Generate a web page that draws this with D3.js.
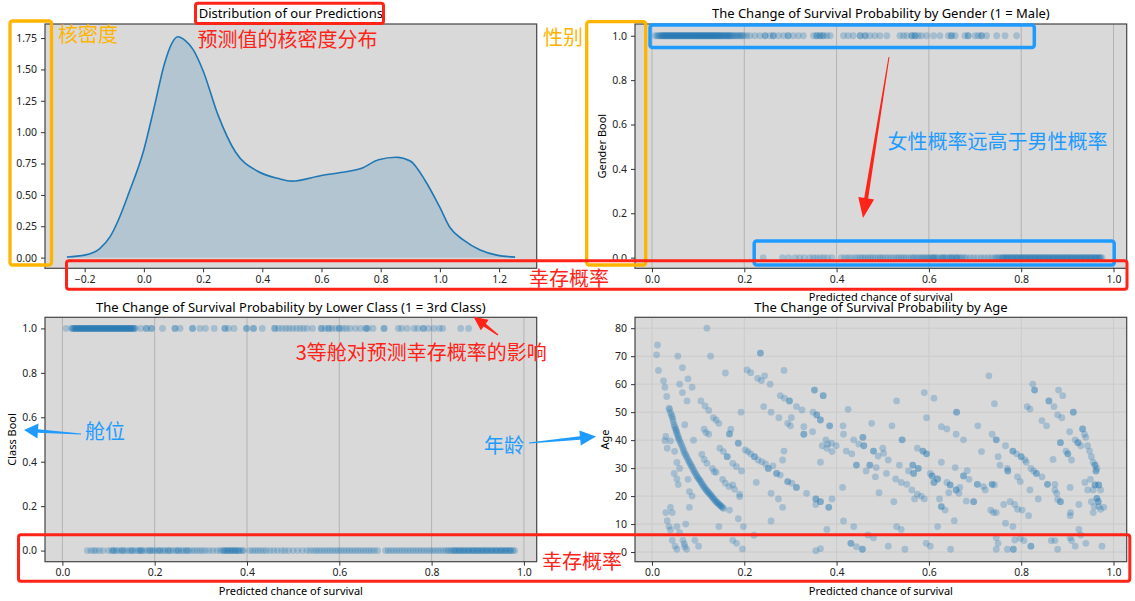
<!DOCTYPE html>
<html><head><meta charset="utf-8">
<script src="https://cdn.jsdelivr.net/npm/d3@7"></script>
<style>body{margin:0;background:#fff}svg{display:block}</style>
</head><body><svg id="c" width="1135" height="601"></svg>
<script>
// ---------- DATA ----------
const kdeX = [-0.26,-0.2,-0.15,-0.114,-0.086,-0.05,0.0,0.035,0.07,0.095,0.114,0.14,0.166,0.2,0.25,0.31,0.383,0.455,0.5,0.6,0.672,0.733,0.793,0.853,0.9,0.95,1.0,1.034,1.079,1.136,1.192,1.254];
const kdeY = [0.005,0.02,0.07,0.167,0.30,0.52,0.86,1.2,1.55,1.71,1.76,1.73,1.66,1.49,1.14,0.84,0.69,0.63,0.61,0.655,0.68,0.71,0.78,0.80,0.77,0.615,0.40,0.24,0.141,0.061,0.02,0.004];

const maleProb = [0.007,0.011,0.014,0.017,0.019,0.021,0.023,0.025,0.026,0.028,0.03,0.031,0.033,0.035,0.036,0.038,0.04,0.041,0.043,0.045,0.046,0.048,0.05,0.051,0.053,0.055,0.056,0.058,0.06,0.061,0.063,0.065,0.066,0.068,0.07,0.071,0.073,0.075,0.076,0.078,0.08,0.081,0.083,0.085,0.086,0.088,0.09,0.091,0.093,0.095,0.096,0.098,0.1,0.101,0.103,0.105,0.106,0.108,0.11,0.111,0.113,0.115,0.116,0.118,0.12,0.121,0.123,0.125,0.126,0.128,0.13,0.131,0.133,0.135,0.136,0.138,0.14,0.141,0.143,0.145,0.146,0.148,0.15,0.152,0.154,0.156,0.158,0.16,0.162,0.164,0.166,0.168,0.17,0.172,0.175,0.178,0.181,0.184,0.187,0.19,0.193,0.196,0.199,
 0.205,0.212,0.223,0.234,0.245,0.245,0.256,0.263,0.263,0.274,0.285,0.295,0.295,0.306,0.317,0.328,0.35,0.357,0.357,0.364,0.364,0.371,0.371,0.379,0.386,
 0.415,0.425,0.436,0.451,0.451,0.462,0.462,0.472,0.483,0.494,0.509,0.537,0.545,0.552,0.563,0.563,0.57,0.57,0.577,0.584,0.595,0.61,0.624,0.642,0.649,0.649,0.657,0.678,0.685,0.685,0.7,0.707,0.714,0.714,0.725,0.747,0.765,0.79];
const femaleProb = [0.241,0.283,0.296,0.31,0.32,0.33,0.342,0.35,0.357,0.365,0.372,0.38,0.39,0.41,0.418,0.425,0.432,0.44,0.446,0.452,0.457,0.462,0.468,0.473,0.478,0.484,0.49,0.495,0.5,0.506,0.512,0.518,0.524,0.53,0.535,0.54,0.545,0.55,0.556,0.562,0.566,0.57,0.575,0.58,0.584,0.588,0.592,0.596,0.6,0.604,0.608,0.612,0.616,0.62,0.625,0.63,0.634,0.638,0.642,0.646,0.65,0.655,0.66,0.664,0.668,0.672,0.677,0.682,0.69,0.697,0.705,0.713,0.72,0.728,0.735,0.742,0.746,0.75,0.754,0.758,0.762,0.765,0.768,0.772,0.775,0.778,0.782,0.785,0.788,0.792,0.795,0.798,0.802,0.805,0.808,0.812,0.815,0.818,0.822,0.825,0.828,0.832,0.835,0.838,0.842,0.845,0.848,0.852,0.855,0.858,0.862,0.865,0.868,0.872,0.875,0.878,0.882,0.885,0.888,0.892,0.895,0.898,0.902,0.905,0.908,0.912,0.915,0.918,0.922,0.925,0.928,0.932,0.935,0.938,0.942,0.945,0.948,0.952,0.955,0.958,0.962,0.965,0.968,0.972,0.975,
 0.61,0.63,0.65,0.66,0.76,0.77,0.78,0.79,0.8,0.81,0.82,0.83,0.84,0.85,0.86,0.87,0.88,0.89,0.9,0.91,0.92,0.93,0.94,0.95,0.96,0.97];

const thirdClassProb = [0.008,0.02,0.022,0.024,0.026,0.028,0.03,0.031,0.034,0.035,0.037,0.039,0.04,0.043,0.044,0.046,0.048,0.049,0.052,0.053,0.055,0.057,0.058,0.061,0.062,0.064,0.066,0.067,0.07,0.071,0.073,0.075,0.076,0.079,0.08,0.082,0.084,0.085,0.088,0.089,0.091,0.093,0.094,0.097,0.098,0.1,0.102,0.103,0.106,0.107,0.109,0.111,0.112,0.115,0.116,0.118,0.12,0.121,0.124,0.125,0.127,0.129,0.13,0.133,0.134,0.136,0.138,0.139,0.142,0.143,0.145,0.147,0.148,0.151,0.152,0.154,0.156,0.158,
 0.17,0.182,0.182,0.193,0.193,0.217,0.244,0.244,0.255,0.282,0.282,0.298,0.31,0.329,0.352,0.352,0.36,0.372,0.399,0.399,0.414,0.414,0.433,0.46,0.46,0.468,0.476,0.484,0.491,0.499,0.507,0.515,0.522,0.53,0.542,0.561,0.561,0.569,0.577,0.577,0.584,0.592,0.6,0.6,0.608,0.615,0.623,0.635,0.646,0.658,0.658,0.662,0.673,0.697,0.697,0.728,0.735,0.747,0.762,0.77,0.782,0.782,0.793,0.805,0.817,0.824,0.863,0.88];
const upperClassProb = [0.054,0.062,0.068,0.073,0.08,0.088,0.1,0.107,0.112,0.117,0.122,0.128,0.134,0.14,0.146,0.152,0.158,0.164,0.168,0.172,0.178,0.184,0.19,0.196,0.2,0.206,0.212,0.218,0.222,0.228,0.234,0.24,0.246,0.252,0.258,0.262,0.268,0.274,0.28,0.286,0.292,0.298,0.304,0.31,0.318,0.326,0.335,0.342,0.347,0.35,0.352,0.356,0.358,0.36,0.364,0.366,0.368,0.372,0.374,0.376,0.38,0.382,0.385,0.39,0.392,0.406,0.412,0.418,0.424,0.43,0.436,0.442,0.45,0.458,0.466,0.475,0.482,0.49,0.5,0.51,0.52,0.53,0.537,0.544,0.55,0.556,0.562,0.568,0.574,0.58,0.586,0.592,0.598,0.604,0.61,0.616,0.622,0.628,0.634,0.64,0.646,0.652,0.658,0.664,0.67,0.676,0.683,0.7,0.706,0.712,0.718,0.724,0.73,0.736,0.742,0.748,0.754,0.76,0.766,0.772,0.778,0.784,0.79,0.796,0.802,0.808,0.814,0.82,0.826,0.832,0.836,0.84,0.844,0.848,0.852,0.856,0.86,0.864,0.868,0.872,0.876,0.88,0.884,0.888,0.892,0.896,0.9,0.904,0.908,0.912,0.916,0.92,0.924,0.928,0.932,0.936,0.94,0.944,0.948,0.952,0.956,0.96,0.964,0.968,0.972,0.976,0.98,
 0.11,0.13,0.15,0.17,0.19,0.21,0.23,0.25,0.27,0.85,0.86,0.87,0.88,0.89,0.9,0.91,0.92,0.93,0.94,0.95,0.96,0.97];

// [predicted probability, age]
const agePoints = [
[0.012,74.0],[0.010,70.5],[0.014,64.9],[0.025,61.2],[0.028,58.9],[0.032,55.6],[0.056,70.0],[0.066,65.9],[0.06,60.0],[0.078,61.9],[0.087,58.9],[0.066,57.0],[0.076,54.0],[0.119,80.0],[0.127,70.0],[0.159,64.0],[0.071,45.5],[0.09,40.0],[0.03,41.3],[0.028,39.8],[0.04,39.7],[0.033,37.1],[0.049,36.0],[0.054,32.0],[0.06,29.9],[0.048,28.1],[0.054,26.1],[0.057,24.1],[0.078,26.0],[0.081,21.6],[0.087,20.0],[0.081,16.0],[0.04,16.0],[0.044,14.1],[0.03,14.1],[0.033,11.2],[0.037,9.1],[0.04,7.9],[0.054,9.1],[0.06,6.9],[0.073,10.0],[0.044,4.2],[0.05,2.1],[0.054,1.0],[0.067,4.2],[0.07,2.9],[0.071,1.9],[0.075,1.0],[0.093,4.2],[0.101,2.1],
[0.037,51.4],[0.040,49.8],[0.044,48.4],[0.046,46.6],[0.049,44.8],[0.052,43.6],[0.054,42.4],[0.057,41.0],[0.060,39.8],[0.064,38.3],[0.068,36.7],[0.071,35.3],[0.075,34.1],[0.079,32.7],[0.083,31.5],[0.087,30.3],[0.091,29.0],[0.095,27.8],[0.099,26.7],[0.103,25.8],[0.107,24.8],[0.111,23.7],[0.115,22.8],[0.119,21.9],[0.123,21.2],[0.127,20.4],[0.131,19.6],[0.135,18.8],[0.139,18.0],[0.143,17.4],[0.147,16.8],[0.151,16.2],[0.155,15.6],
[0.038,51.0],[0.042,49.0],[0.045,47.5],[0.048,45.5],[0.051,44.2],[0.053,43.0],[0.056,41.7],[0.058,40.4],[0.062,39.0],[0.066,37.5],[0.069,36.0],[0.073,34.7],[0.077,33.4],[0.081,32.1],[0.085,30.9],[0.089,29.6],[0.093,28.4],[0.097,27.2],[0.101,26.2],[0.105,25.3],[0.109,24.2],[0.113,23.2],[0.117,22.3],[0.121,21.5],[0.125,20.8],[0.129,20.0],[0.133,19.2],[0.137,18.4],[0.141,17.7],[0.145,17.1],[0.149,16.5],[0.153,15.9],
[0.106,54.0],[0.115,52.2],[0.123,50.6],[0.133,48.0],[0.139,47.2],[0.145,46.0],[0.113,43.9],[0.117,42.7],[0.123,42.1],[0.168,42.2],[0.168,42.2],[0.171,43.9],[0.193,50.0],[0.108,34.9],[0.113,33.1],[0.119,31.7],[0.131,29.9],[0.135,28.7],[0.139,28.5],[0.147,37.1],[0.155,35.9],[0.163,34.1],[0.163,34.1],[0.175,31.7],[0.183,30.5],[0.194,29.0],[0.153,26.0],[0.159,24.6],[0.167,23.4],[0.175,24.0],[0.179,22.4],[0.19,20.7],[0.19,19.8],[0.168,15.0],[0.187,11.9],[0.198,9.1],[0.145,9.1],[0.175,4.2],[0.183,3.1],[0.196,1.1],[0.187,38.9],[0.187,38.9],
[0.206,65.1],[0.214,64.1],[0.235,71.1],[0.235,71.1],[0.229,62.1],[0.237,61.3],[0.244,63.0],[0.256,60.0],[0.242,52.0],[0.258,50.0],[0.286,64.9],[0.278,55.9],[0.287,55.0],[0.298,54.0],[0.298,54.0],[0.275,48.0],[0.294,46.0],[0.302,48.0],[0.313,52.0],[0.325,50.8],[0.3,45.1],[0.202,36.5],[0.208,35.9],[0.214,35.1],[0.222,34.1],[0.222,34.1],[0.23,32.9],[0.238,32.3],[0.246,31.5],[0.252,29.9],[0.252,29.9],[0.262,30.8],[0.27,28.1],[0.27,28.1],[0.278,27.5],[0.286,36.1],[0.283,32.9],[0.294,25.2],[0.294,25.2],[0.303,24.6],[0.313,23.1],[0.313,23.1],[0.226,24.9],[0.258,21.0],[0.274,19.0],[0.283,16.0],[0.258,11.1],[0.221,6.0],
[0.329,42.1],[0.329,42.1],[0.329,44.8],[0.335,21.0],[0.349,50],[0.352,57.9],[0.352,57.9],[0.371,55.9],[0.371,55.9],[0.357,49.0],[0.357,49.0],[0.365,47.2],[0.365,47.2],[0.385,45.1],[0.385,45.1],[0.348,43.0],[0.377,40.1],[0.381,38.6],[0.389,38.9],[0.369,38.0],[0.379,37.1],[0.39,35.9],[0.399,38.0],[0.365,32.1],[0.355,19.0],[0.355,19.0],[0.365,18.0],[0.365,18.0],[0.355,17.0],[0.383,16.0],[0.383,16.0],[0.39,19.0],[0.379,8.1],[0.355,0.5],[0.365,1.2],
[0.425,51.0],[0.414,45.1],[0.415,42.1],[0.437,40.1],[0.448,38.6],[0.457,41.0],[0.457,41.0],[0.459,38.0],[0.459,38.0],[0.421,36.1],[0.433,35.1],[0.443,31.1],[0.443,31.1],[0.464,29.0],[0.472,31.1],[0.472,31.1],[0.48,36.1],[0.48,36.1],[0.476,46.0],[0.486,30.2],[0.484,26.9],[0.49,34.3],[0.5,37.1],[0.413,23.1],[0.415,11.1],[0.437,9.1],[0.431,3.1],[0.431,3.1],[0.443,1.9],[0.456,1.0],[0.456,1.0],[0.468,6.1],[0.48,5.1],[0.492,21.2],
[0.502,35.3],[0.512,32.9],[0.508,28.1],[0.52,45.1],[0.53,54.0],[0.536,31.1],[0.542,40.1],[0.542,40.1],[0.528,26.1],[0.54,24.9],[0.552,24.2],[0.524,18.0],[0.53,9.1],[0.54,8.1],[0.512,2.1],[0.548,1.0],[0.556,29.0],[0.565,31.1],[0.565,31.1],[0.567,28.1],[0.567,28.1],[0.575,37.1],[0.577,29.9],[0.577,29.9],[0.587,36.1],[0.587,36.1],[0.595,35.1],[0.595,35.1],[0.59,57.0],[0.611,55.0],[0.595,48.0],[0.563,22.2],[0.575,20.7],[0.569,19.0],[0.583,20.0],[0.59,19.0],[0.594,3.1],[0.603,2.1],
[0.603,28.1],[0.607,27.2],[0.607,27.2],[0.611,24.9],[0.611,24.9],[0.619,26.1],[0.619,26.1],[0.627,32.1],[0.623,19.0],[0.627,16.2],[0.627,16.2],[0.635,15.0],[0.619,9.1],[0.627,44.8],[0.639,44.0],[0.66,50.0],[0.66,50.0],[0.659,42.1],[0.639,24.9],[0.646,24.0],[0.646,24.0],[0.643,21.2],[0.659,22.2],[0.659,22.2],[0.665,21.0],[0.657,30.2],[0.675,40.1],[0.675,27.2],[0.675,27.2],[0.687,26.0],[0.683,29.1],[0.667,23.1],[0.681,18.2],[0.697,18.0],[0.697,18.0],[0.655,11.2],[0.647,1.0],
[0.706,45.1],[0.714,35.9],[0.705,24.2],[0.705,24.2],[0.718,23.4],[0.722,22.2],[0.73,63.0],[0.737,42.1],[0.742,53.0],[0.746,40.1],[0.746,40.1],[0.75,34.1],[0.754,31.1],[0.766,38.0],[0.77,29.9],[0.771,29.0],[0.771,29.0],[0.782,36.1],[0.782,36.1],[0.79,35.1],[0.737,24.2],[0.737,24.2],[0.742,24.0],[0.734,15.0],[0.74,14.1],[0.746,14.1],[0.762,17.0],[0.776,18.0],[0.786,17.0],[0.792,26.9],[0.798,25.2],[0.792,15.3],[0.766,10.3],[0.782,9.1],[0.746,5.1],[0.75,3.1],[0.746,1.0],[0.77,1.0],[0.783,1.0],[0.783,1.0],[0.786,4.3],[0.798,4.9],
[0.825,60.0],[0.829,57.9],[0.829,57.9],[0.813,52.0],[0.819,51.1],[0.845,47.0],[0.855,45.1],[0.86,54.0],[0.86,54.0],[0.871,52.0],[0.8,34.1],[0.8,34.1],[0.808,32.9],[0.811,32.1],[0.821,29.9],[0.827,29.0],[0.833,28.1],[0.833,28.1],[0.845,26.9],[0.857,24.2],[0.857,24.2],[0.837,19.0],[0.819,22.2],[0.816,13.0],[0.802,15.0],[0.821,2.1],[0.821,2.1],[0.806,4.1],[0.869,33.1],[0.873,24.2],[0.873,22.2],[0.877,21.0],[0.879,18.8],[0.885,18.0],[0.885,18.0],[0.865,4.1],[0.873,4.1],[0.879,1.0],[0.881,57.9],[0.89,55.9],[0.879,49.0],[0.888,48.0],[0.885,39.1],[0.885,39.1],[0.897,36.1],[0.901,35.1],[0.901,35.1],
[0.913,50.0],[0.913,50.0],[0.905,43.0],[0.917,40.1],[0.923,39.1],[0.923,39.1],[0.929,38.0],[0.933,44.0],[0.933,44.0],[0.937,42.1],[0.94,41.0],[0.944,38.0],[0.948,36.1],[0.952,34.1],[0.956,32.1],[0.96,31.1],[0.96,31.1],[0.964,29.9],[0.962,29.0],[0.962,29.0],[0.909,32.9],[0.906,23.1],[0.925,17.0],[0.907,14.1],[0.906,13.0],[0.938,24.9],[0.944,22.2],[0.95,26.0],[0.956,22.2],[0.96,24.0],[0.96,24.0],[0.968,24.0],[0.968,24.0],[0.964,19.2],[0.964,19.2],[0.967,18.0],[0.967,18.0],[0.968,16.2],[0.958,16.2],[0.972,22.2],[0.972,15.3],[0.979,16.0],[0.956,14.1],[0.952,18.0],[0.925,8.1],[0.929,6.1],[0.906,5.1],[0.909,4.1],[0.917,2.1],[0.94,3.1],[0.975,2.1]
];

const kdeTicksX = [-0.2,0,0.2,0.4,0.6,0.8,1.0,1.2];
const kdeTicksY = [0,0.25,0.5,0.75,1.0,1.25,1.5,1.75];
const probTicks = [0,0.2,0.4,0.6,0.8,1.0];
const boolTicks = [0,0.2,0.4,0.6,0.8,1.0];
const ageTicks = [0,10,20,30,40,50,60,70,80];

const titles = ["Distribution of our Predictions","The Change of Survival Probability by Gender (1 = Male)","The Change of Survival Probability by Lower Class (1 = 3rd Class)","The Change of Survival Probability by Age"];
const xLabel = "Predicted chance of survival";

// ---------- DRAW ----------
const svg = d3.select('#c');
svg.append('rect').attr('width',1135).attr('height',601).attr('fill','#fff');
const defs = svg.append('defs');
const FONT = "'Noto Sans','DejaVu Sans',sans-serif";
const CJK = "'Noto Sans CJK SC','Noto Sans',sans-serif";
const BG = '#d9d9d9', PT = '#1f77b4';
const RED = '#ff2318', ORANGE = '#ffb400', BLUE = '#1f9bff';

function panel(o){
  const g = svg.append('g');
  const x = d3.scaleLinear().domain(o.xd).range([o.l,o.r]);
  const y = d3.scaleLinear().domain(o.yd).range([o.b,o.t]);
  g.append('rect').attr('x',o.l).attr('y',o.t).attr('width',o.r-o.l).attr('height',o.b-o.t).attr('fill',BG);
  if(o.gridX) g.append('g').selectAll('line').data(o.xt).join('line')
     .attr('x1',d=>x(d)).attr('x2',d=>x(d)).attr('y1',o.t).attr('y2',o.b)
     .attr('stroke',o.gridColor).attr('stroke-width',1);
  if(o.gridY) g.append('g').selectAll('line').data(o.yt).join('line')
     .attr('y1',d=>y(d)).attr('y2',d=>y(d)).attr('x1',o.l).attr('x2',o.r)
     .attr('stroke',o.gridColor).attr('stroke-width',1);
  defs.append('clipPath').attr('id','cp'+o.id).append('rect')
     .attr('x',o.l).attr('y',o.t).attr('width',o.r-o.l).attr('height',o.b-o.t);
  const plot = g.append('g').attr('clip-path',`url(#cp${o.id})`);
  function finish(){
    g.append('rect').attr('x',o.l).attr('y',o.t).attr('width',o.r-o.l).attr('height',o.b-o.t)
      .attr('fill','none').attr('stroke','#444').attr('stroke-width',1.2);
    const ax = g.append('g').attr('transform',`translate(0,${o.b})`)
      .call(d3.axisBottom(x).tickValues(o.xt).tickFormat(d3.format(o.xf)).tickSize(4).tickPadding(3));
    const ay = g.append('g').attr('transform',`translate(${o.l},0)`)
      .call(d3.axisLeft(y).tickValues(o.yt).tickFormat(d3.format(o.yf)).tickSize(4).tickPadding(4));
    [ax,ay].forEach(a=>{
      a.select('.domain').remove();
      a.selectAll('line').attr('stroke','#333');
      a.selectAll('text').attr('font-family',FONT).attr('font-size',10.5).attr('fill','#222');
    });
    const cx = (o.l+o.r)/2;
    g.append('text').attr('x',cx).attr('y',o.titleY).attr('text-anchor','middle').attr('dominant-baseline','central')
      .attr('font-family',FONT).attr('font-size',13).attr('fill','#000').text(o.title);
    if(o.xlab) g.append('text').attr('x',cx).attr('y',o.b+28.5).attr('text-anchor','middle').attr('dominant-baseline','central')
      .attr('font-family',FONT).attr('font-size',11).attr('fill','#000').text(o.xlab);
    if(o.ylab) g.append('text').attr('transform',`translate(${o.ylabX},${(o.t+o.b)/2}) rotate(-90)`)
      .attr('text-anchor','middle').attr('dominant-baseline','central')
      .attr('font-family',FONT).attr('font-size',11).attr('fill','#000').text(o.ylab);
  }
  return {x,y,plot,finish};
}

const R = 3.4, OP = 0.28;

// Panel 1: KDE
const p1 = panel({id:1,l:45,r:536.7,t:24,b:268.3,xd:[-0.334,1.327],yd:[-0.085,1.862],
  xt:kdeTicksX,yt:kdeTicksY,xf:'.1f',yf:'.2f',title:titles[0],titleY:13.3});
const kde = kdeX.map((v,i)=>[v,kdeY[i]]);
p1.plot.append('path').datum(kde)
  .attr('d',d3.area().x(d=>p1.x(d[0])).y0(p1.y(0)).y1(d=>p1.y(d[1])).curve(d3.curveMonotoneX))
  .attr('fill',PT).attr('fill-opacity',0.2);
p1.plot.append('path').datum(kde)
  .attr('d',d3.line().x(d=>p1.x(d[0])).y(d=>p1.y(d[1])).curve(d3.curveMonotoneX))
  .attr('fill','none').attr('stroke',PT).attr('stroke-width',1.6);
p1.finish();

// Panel 2: Gender
const p2 = panel({id:2,l:635,r:1126.7,t:24,b:268.3,xd:[-0.0368,1.0286],yd:[-0.048,1.053],
  xt:probTicks,yt:boolTicks,xf:'.1f',yf:'.1f',gridX:true,gridColor:'#b3b3b3',
  title:titles[1],titleY:13.3,xlab:xLabel,ylab:'Gender Bool',ylabX:601});
const gData = maleProb.map(v=>[v,1]).concat(femaleProb.map(v=>[v,0]));
p2.plot.selectAll('circle').data(gData).join('circle')
  .attr('cx',d=>p2.x(d[0])).attr('cy',d=>p2.y(d[1])).attr('r',R).attr('fill',PT).attr('fill-opacity',OP);
p2.finish();

// Panel 3: Class
const p3 = panel({id:3,l:45,r:536.7,t:317.3,b:561.7,xd:[-0.0377,1.0277],yd:[-0.05,1.05],
  xt:probTicks,yt:boolTicks,xf:'.1f',yf:'.1f',gridX:true,gridColor:'#b3b3b3',
  title:titles[2],titleY:306.7,xlab:xLabel,ylab:'Class Bool',ylabX:11.4});
const cData = thirdClassProb.map(v=>[v,1]).concat(upperClassProb.map(v=>[v,0]));
p3.plot.selectAll('circle').data(cData).join('circle')
  .attr('cx',d=>p3.x(d[0])).attr('cy',d=>p3.y(d[1])).attr('r',R).attr('fill',PT).attr('fill-opacity',OP);
p3.finish();

// Panel 4: Age
const p4 = panel({id:4,l:635,r:1126.7,t:317.3,b:561.7,xd:[-0.0368,1.0286],yd:[-3.45,83.9],
  xt:probTicks,yt:ageTicks,xf:'.1f',yf:'d',gridX:true,gridY:true,gridColor:'#cbcbcb',
  title:titles[3],titleY:306.7,xlab:xLabel,ylab:'Age',ylabX:604});
p4.plot.selectAll('circle').data(agePoints).join('circle')
  .attr('cx',d=>p4.x(d[0])).attr('cy',d=>p4.y(d[1])).attr('r',R).attr('fill',PT).attr('fill-opacity',OP);
p4.finish();

// ---------- ANNOTATIONS ----------
const ann = svg.append('g');
function box(x,y,w,h,c,sw){ ann.append('rect').attr('x',x).attr('y',y).attr('width',w).attr('height',h)
  .attr('rx',2.5).attr('fill','none').attr('stroke',c).attr('stroke-width',sw); }
function label(x,y,t,c){ ann.append('text').attr('x',x).attr('y',y).attr('dominant-baseline','central')
  .attr('font-family',CJK).attr('font-size',20).attr('fill',c).text(t); }
function arrow(x1,y1,x2,y2,tw,sw,hw,hl,c){
  const dx=x2-x1, dy=y2-y1, L=Math.hypot(dx,dy), ux=dx/L, uy=dy/L, nx=-uy, ny=ux;
  const bx=x2-ux*hl, by=y2-uy*hl;
  const pts=[[x1+nx*tw/2,y1+ny*tw/2],[bx+nx*sw/2,by+ny*sw/2],[bx+nx*hw/2,by+ny*hw/2],[x2,y2],
    [bx-nx*hw/2,by-ny*hw/2],[bx-nx*sw/2,by-ny*sw/2],[x1-nx*tw/2,y1-ny*tw/2]];
  ann.append('path').attr('d','M'+pts.map(p=>p.join(',')).join('L')+'Z').attr('fill',c);
}
box(10,21,41.5,244,ORANGE,3.3);
box(586.7,21.7,59,243.3,ORANGE,3.3);
box(650,25,384.3,22.6,BLUE,3.5);
box(754.2,241,360,24,BLUE,3.5);
label(58,33,'核密度',ORANGE);
label(543,36,'性别',ORANGE);
label(197.5,38.3,'预测值的核密度分布',RED);
label(887.5,140,'女性概率远高于男性概率',BLUE);
label(529,277,'幸存概率',RED);
label(295.7,351.7,'3等舱对预测幸存概率的影响',RED);
label(85,430,'舱位',BLUE);
label(484,444,'年龄',BLUE);
label(542,560,'幸存概率',RED);
arrow(889,57,863,218,1,4,16,20,RED);
arrow(498,335,473.5,316.7,1.5,3.5,13,14,RED);
arrow(81,434,24,430,1,3.5,15,14,BLUE);
arrow(529,443,596,436.5,1,3.5,15,16,BLUE);
box(195.5,3.2,188,20.3,RED,3);
box(66.5,260.8,1060.5,28.4,RED,3);
box(18.5,534.8,1111.3,46.4,RED,3);
</script></body></html>
